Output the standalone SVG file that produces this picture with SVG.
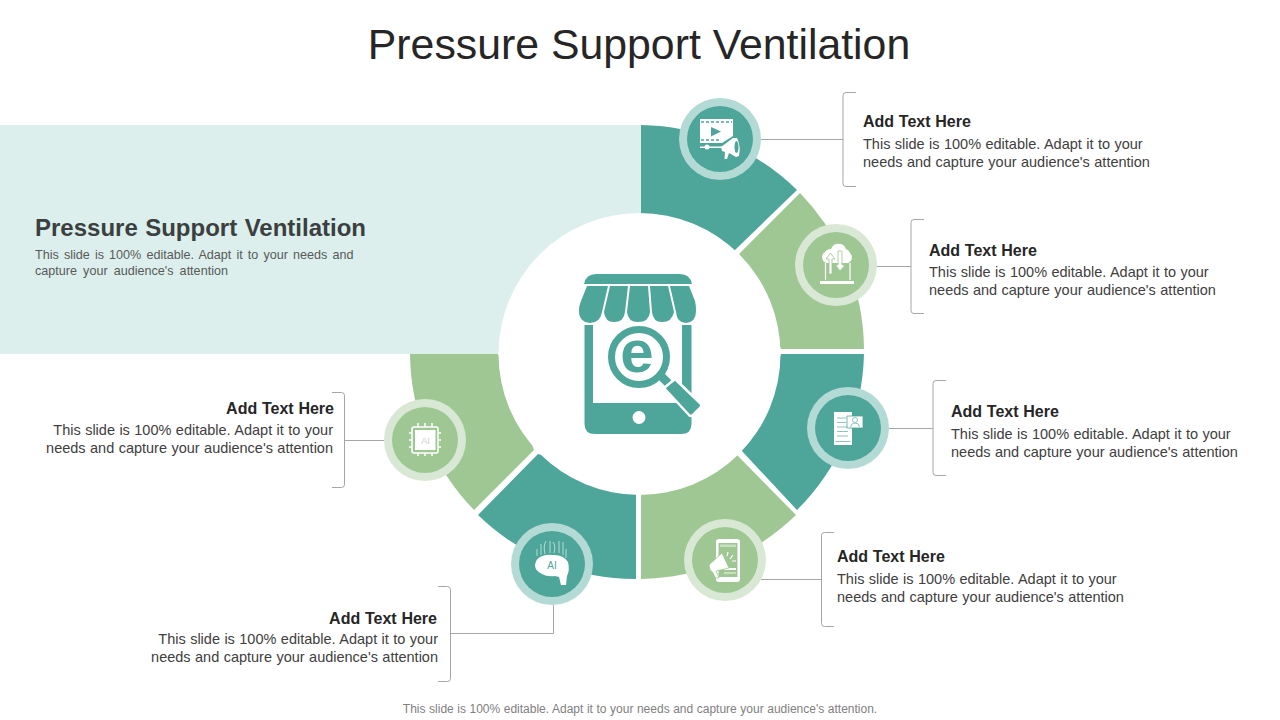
<svg xmlns="http://www.w3.org/2000/svg" width="1280" height="720" viewBox="0 0 1280 720">
<style>
text{font-family:"Liberation Sans",Arial,sans-serif}
.t{fill:#262626}
.h{font-size:16px;font-weight:700;fill:#262626;word-spacing:.3px}
.b{font-size:14.5px;fill:#404040;word-spacing:.4px}
.e{text-anchor:end}
.ln{fill:none;stroke:#a6a6a6;stroke-width:1}
.teal{fill:#4ea599}.green{fill:#9fc794}
.palet{fill:#b3dad4}.paleg{fill:#d9e8d5}
.w{fill:#fff}
.wl{fill:none;stroke:#fff;stroke-width:1.2}
</style>
<rect width="1280" height="720" fill="#fff"/>
<rect x="0" y="125" width="641" height="229" fill="#dcefec"/>
<g id="ring">
<path class="teal" d="M641 125A227 227 0 0 1 797 190L735 250L641 250Z"/>
<path class="green" d="M800 193A227 227 0 0 1 864 349L781 349L739 254Z"/>
<path class="teal" d="M864 354A227 227 0 0 1 797 510L741 450L781 354Z"/>
<path class="green" d="M796 515A227 227 0 0 1 641 579L641 480L737 455Z"/>
<path class="teal" d="M636 579A227 227 0 0 1 478 515L538 454L636 480Z"/>
<path class="green" d="M474 510A227 227 0 0 1 410 354L498 354L534 450Z"/>
<circle cx="639.500" cy="354" r="141" fill="#fff"/>
</g>
<text class="t" x="639" y="58.500" font-size="42.800" text-anchor="middle">Pressure Support Ventilation</text>
<g id="connectors">
<path class="ln" d="M761 139.500H843M856 92.500H846Q843 92.500 843 95.500V183.500Q843 186.500 846 186.500H856"/>
<path class="ln" d="M877 266.500H911M924 219.500H914Q911 219.500 911 222.500V310.500Q911 313.500 914 313.500H924"/>
<path class="ln" d="M889 428.500H933M946 380.500H936Q933 380.500 933 383.500V472.500Q933 475.500 936 475.500H946"/>
<path class="ln" d="M761 579.500H821.500M834 532.500H824.500Q821.500 532.500 821.500 535.500V623.500Q821.500 626.500 824.500 626.500H834"/>
<path class="ln" d="M553.500 605V633.500H450.500M438 586.500H447.500Q450.500 586.500 450.500 589.500V678.500Q450.500 681.500 447.500 681.500H438"/>
<path class="ln" d="M384 440.500H344.500M332 392.500H341.500Q344.500 392.500 344.500 395.500V484.500Q344.500 487.500 341.500 487.500H332"/>
</g>
<g id="hero">
<text x="35" y="236" font-size="24" font-weight="700" fill="#3b3f3f" word-spacing=".8">Pressure Support Ventilation</text>
<text x="35" y="259" font-size="12.600" fill="#595959" word-spacing="1.600">This slide is 100% editable. Adapt it to your needs and</text>
<text x="35" y="275" font-size="12.600" fill="#595959" word-spacing="2.600">capture your audience's attention</text>
</g>
<g id="center-icon">
<path class="teal" d="M596 274H680Q690 274 692 284H584Q586 274 596 274Z"/>
<path class="teal" d="M584.500 325H593V403H682V325H691.500V424Q691.500 434 681 434H595Q584.500 434 584.500 424Z"/>
<path class="teal" d="M587 286H608L602 312Q600 323 590 323Q579 322 579 311Q579 305 581 301Z"/>
<path class="teal" d="M610 286H628L625 312Q624 322 614 322Q605 322 604 312Z"/>
<path class="teal" d="M630 286H648L650 312Q649 322 638 322Q628 322 627 312Z"/>
<path class="teal" d="M650 286H668L674 312Q672 322 662 322Q653 322 652 312Z"/>
<path class="teal" d="M670 286H689L695 301Q696 305 696 311Q696 322 686 323Q677 323 676 312Z"/>
<circle class="w" cx="639" cy="417.500" r="6.500"/>
<circle cx="639" cy="357" r="27.500" fill="none" stroke="#4ea599" stroke-width="7"/>
<text x="637" y="372" font-size="60" font-weight="700" text-anchor="middle" fill="#4ea599">e</text>
<path class="teal" d="M658 379L664 373L673 382L667 388Z"/>
<path class="teal" stroke="#fff" stroke-width="2.500" stroke-linejoin="round" d="M675 379L701 404Q702 406 700 408L693 415Q691 417 689 415L664 388Z"/>
</g>
<g id="node1">
<circle class="palet" cx="720" cy="139" r="41"/><circle class="teal" cx="720" cy="139" r="33"/>
<path class="w" d="M700 119H733V136L722 143H700Z"/>
<path class="teal" d="M711 127V136.500L721 131.500Z"/>
<path fill="none" stroke="#4ea599" stroke-width="1.500" stroke-dasharray="3 2" d="M701 122H732M701 140H720"/>
<path class="w" d="M700 146.500H722V148H700Z"/><circle class="w" cx="707" cy="147" r="2.500"/>
<path class="w" d="M721 147L733 138H737Q741 146 739 156L736 157L729 153L727 159H724.500L725 152L722 151Z"/>
<ellipse cx="736.500" cy="147" rx="2" ry="6" fill="#4ea599"/>
</g>
<g id="node2">
<circle class="paleg" cx="836" cy="265" r="41"/><circle class="green" cx="836" cy="265" r="33"/>
<path class="w" d="M829 263H827A6 6 0 0 1 825 252A7 7 0 0 1 831 249A8 8 0 0 1 846 249A7 7 0 0 1 850 253A6 6 0 0 1 848 263Z"/>
<path class="wl" d="M825.500 263V280M850 263V280"/>
<path class="w" stroke="#9fc794" stroke-width=".8" d="M829 274V259H826L830.500 253L835 259H832V274Z"/>
<path class="w" stroke="#9fc794" stroke-width=".8" d="M838 251V265H835.500L840 271L845 265H842V251Z"/>
<path class="w" d="M820 281H854V284H820Z"/>
</g>
<g id="node3">
<circle class="palet" cx="848" cy="428" r="41"/><circle class="teal" cx="848" cy="428" r="33"/>
<path class="w" d="M834 412H852V445H834Z"/>
<path fill="none" stroke="#8fc5bc" d="M837 418H846M837 422.500H846M837 427H848M837 431.500H848M837 436H848M835.500 441.500H850.500"/>
<path class="w" stroke="#4ea599" stroke-width=".8" d="M847 416H863V428H847Z"/>
<circle cx="855" cy="420" r="2.500" fill="none" stroke="#8fc5bc"/>
<path fill="none" stroke="#8fc5bc" d="M850.500 427Q851 423 855 423Q859 423 859.500 427"/>
</g>
<g id="node4">
<circle class="paleg" cx="725" cy="560" r="41"/><circle class="green" cx="725" cy="560" r="33"/>
<path class="w" d="M719 539H737Q740 539 740 542V579Q740 582 737 582H719Q716 582 716 579V542Q716 539 719 539Z"/>
<path class="green" d="M718.500 543H737.500V577H718.500Z"/>
<path fill="#c9e0c3" d="M720 544.500H736V547H720ZM724 572H736V574H724Z"/>
<path class="w" d="M724 568H736V570H724Z"/>
<path class="w" stroke="#9fc794" stroke-width=".8" d="M709 565L722 553L729 568L716 571L719 578H715.500L712.500 572L710 570Z"/>
<path class="wl" d="M728 552L727 556M733 555L730 559M736 561H732"/>
</g>
<g id="node5">
<circle class="palet" cx="552" cy="564" r="41"/><circle class="teal" cx="552" cy="564" r="33"/>
<path class="w" d="M540 557Q546 554 552 555Q563 554 568 562Q570 570 567 576L566 585L561 585L559 577L555 576Q547 577 542 574Q535 571 535 565Q536 559 540 557Z"/>
<path fill="none" stroke="#d3ebe7" stroke-width=".8" d="M537 556V549M541 555V544M545 554Q543 546 546 541M550 553V541M554 553Q556 546 553 542M559 553V541M563 555V542M566 558V549"/>
<text x="552" y="569" font-size="10" text-anchor="middle" fill="#4ea599">AI</text>
</g>
<g id="node6">
<circle class="paleg" cx="425" cy="440" r="41"/><circle class="green" cx="425" cy="440" r="33"/>
<rect x="412" y="427" width="26" height="26" rx="2" fill="none" stroke="#fff" stroke-width="1.500"/>
<rect class="w" x="415" y="430" width="20.500" height="20"/>
<path fill="none" stroke="#fff" stroke-width="1.500" d="M418 423V427M425 423V427M432 423V427M418 453V456M425 453V456M432 453V456M409 433H412M409 440H412M409 447H412M438 433H441M438 440H441M438 447H441"/>
<text x="425.500" y="444" font-size="9.500" text-anchor="middle" fill="#cfcfcf">AI</text>
</g>
<g id="label1"><text class="h" x="863" y="127">Add Text Here</text><text class="b" x="863" y="149">This slide is 100% editable. Adapt it to your</text><text class="b" x="863" y="167">needs and capture your audience's attention</text></g>
<g id="label2"><text class="h" x="929" y="256">Add Text Here</text><text class="b" x="929" y="277">This slide is 100% editable. Adapt it to your</text><text class="b" x="929" y="295">needs and capture your audience's attention</text></g>
<g id="label3"><text class="h" x="951" y="417">Add Text Here</text><text class="b" x="951" y="439">This slide is 100% editable. Adapt it to your</text><text class="b" x="951" y="457">needs and capture your audience's attention</text></g>
<g id="label4"><text class="h" x="837" y="562">Add Text Here</text><text class="b" x="837" y="584">This slide is 100% editable. Adapt it to your</text><text class="b" x="837" y="602">needs and capture your audience's attention</text></g>
<g id="label5"><text class="h e" x="437" y="624">Add Text Here</text><text class="b e" x="438" y="644">This slide is 100% editable. Adapt it to your</text><text class="b e" x="438" y="662">needs and capture your audience's attention</text></g>
<g id="label6"><text class="h e" x="334" y="414">Add Text Here</text><text class="b e" x="333" y="435">This slide is 100% editable. Adapt it to your</text><text class="b e" x="333" y="453">needs and capture your audience's attention</text></g>
<text x="640" y="713" font-size="12" fill="#7f7f7f" text-anchor="middle" word-spacing=".22">This slide is 100% editable. Adapt it to your needs and capture your audience's attention.</text>
</svg>
